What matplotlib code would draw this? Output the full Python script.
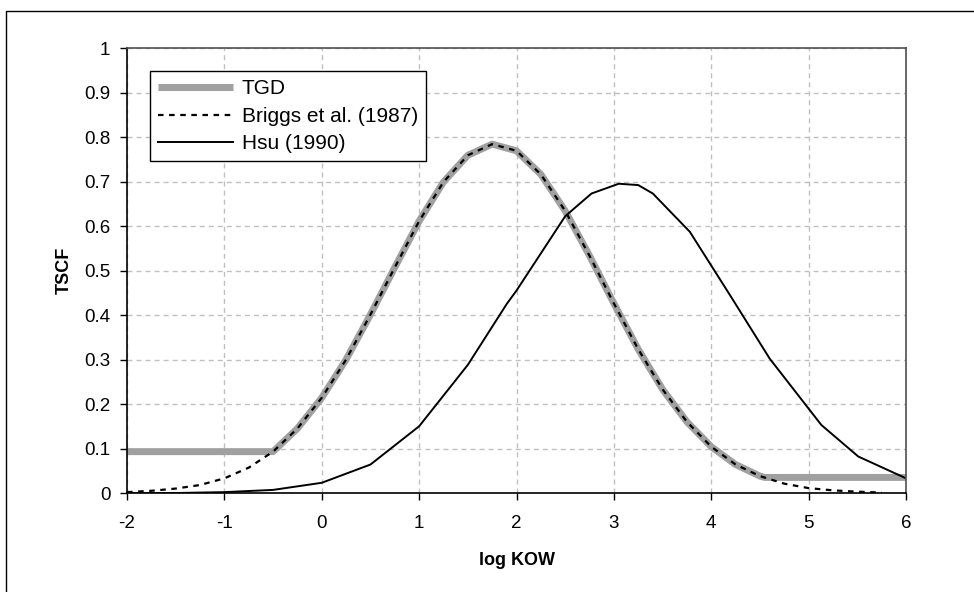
import matplotlib
matplotlib.use("Agg")
import matplotlib.pyplot as plt
from matplotlib.patches import Rectangle

plt.rcParams['font.family'] = ['Liberation Sans', 'DejaVu Sans']
plt.rcParams['font.size'] = 13

# Briggs et al. (1987)
briggs_x = [-2, -1.75, -1.5, -1.25, -1, -0.75, -0.5, -0.25, 0, 0.25, 0.5, 0.75,
            1, 1.25, 1.5, 1.75, 2, 2.25, 2.5, 2.75, 3, 3.25, 3.5, 3.75, 4,
            4.25, 4.5, 4.75, 5, 5.25, 5.5, 5.75]
briggs_y = [0.002, 0.005, 0.010, 0.018, 0.033, 0.057, 0.093, 0.145, 0.214, 0.300,
            0.401, 0.507, 0.611, 0.699, 0.759, 0.784, 0.769, 0.716, 0.634, 0.533,
            0.426, 0.323, 0.233, 0.160, 0.104, 0.064, 0.038, 0.021, 0.011, 0.006,
            0.003, 0.001]

# TGD: flat floor at the low end, Briggs curve in the middle, flat at the high end
tgd_x = [-2, -0.55, -0.5, -0.25, 0, 0.25, 0.5, 0.75, 1, 1.25, 1.5, 1.75, 2,
         2.25, 2.5, 2.75, 3, 3.25, 3.5, 3.75, 4, 4.25, 4.5, 4.55, 6]
tgd_y = [0.093, 0.093, 0.093, 0.145, 0.214, 0.300, 0.401, 0.507, 0.611, 0.699,
         0.759, 0.784, 0.769, 0.716, 0.634, 0.533, 0.426, 0.323, 0.233, 0.160,
         0.104, 0.064, 0.038, 0.035, 0.035]

# Hsu (1990)
hsu_x = [-2, -1.5, -1, -0.5, 0, 0.5, 1, 1.5, 1.9, 2.0, 2.5, 2.77, 3.05, 3.25,
         3.4, 3.78, 4.2, 4.6, 5.13, 5.51, 6.0]
hsu_y = [0.000, 0.000, 0.002, 0.007, 0.023, 0.064, 0.150, 0.288, 0.425, 0.455,
         0.622, 0.673, 0.695, 0.692, 0.673, 0.587, 0.442, 0.302, 0.153, 0.082,
         0.033]

fig = plt.figure(figsize=(9.74, 5.92), dpi=100)
ax = fig.add_axes([0.1304, 0.1672, 0.7998, 0.7517])

ax.grid(True, color='#c0c0c0', linewidth=1, dashes=(3.6, 2.9))
ax.set_axisbelow(True)

ax.plot(tgd_x, tgd_y, color='#a0a0a0', linewidth=5, solid_capstyle='butt', label='TGD')
ax.plot(briggs_x, briggs_y, color='black', linewidth=1.6, dashes=(2.5, 2.5), label='Briggs et al. (1987)')
ax.plot(hsu_x, hsu_y, color='black', linewidth=1.4, label='Hsu (1990)')

ax.set_xlim(-2, 6)
ax.set_ylim(0, 1)
ax.set_xticks(range(-2, 7))
ax.set_xticklabels([str(v) for v in range(-2, 7)])
ax.set_yticks([i / 10 for i in range(11)])
ax.set_yticklabels(['0', '0.1', '0.2', '0.3', '0.4', '0.5', '0.6', '0.7', '0.8', '0.9', '1'])
ax.tick_params(direction='out', length=5, width=1, labelsize=13.5)
ax.tick_params(axis='x', pad=11)
ax.tick_params(axis='y', pad=7)

for s in ['left', 'bottom']:
    ax.spines[s].set_color('black')
    ax.spines[s].set_linewidth(1.2)
for s in ['top', 'right']:
    ax.spines[s].set_color('#505050')
    ax.spines[s].set_linewidth(1.2)

ax.set_xlabel('log KOW', fontweight='bold', fontsize=13, labelpad=14)
ax.set_ylabel('TSCF', fontweight='bold', fontsize=13, labelpad=8)

leg = ax.legend(loc='upper left', bbox_to_anchor=(0.0295, 0.948), frameon=True,
                fancybox=False, edgecolor='black', framealpha=1,
                handlelength=3.6, handletextpad=0.4, labelspacing=0.4,
                borderpad=0.4, borderaxespad=0, fontsize=15)
leg.get_frame().set_linewidth(1)

# outer chart border (only top and left fall inside the image)
fig.patches.append(Rectangle((6 / 974, -0.1), 1.2, 1.0814, transform=fig.transFigure,
                             fill=False, edgecolor='black', linewidth=1))

fig.savefig('out.png', dpi=100)
